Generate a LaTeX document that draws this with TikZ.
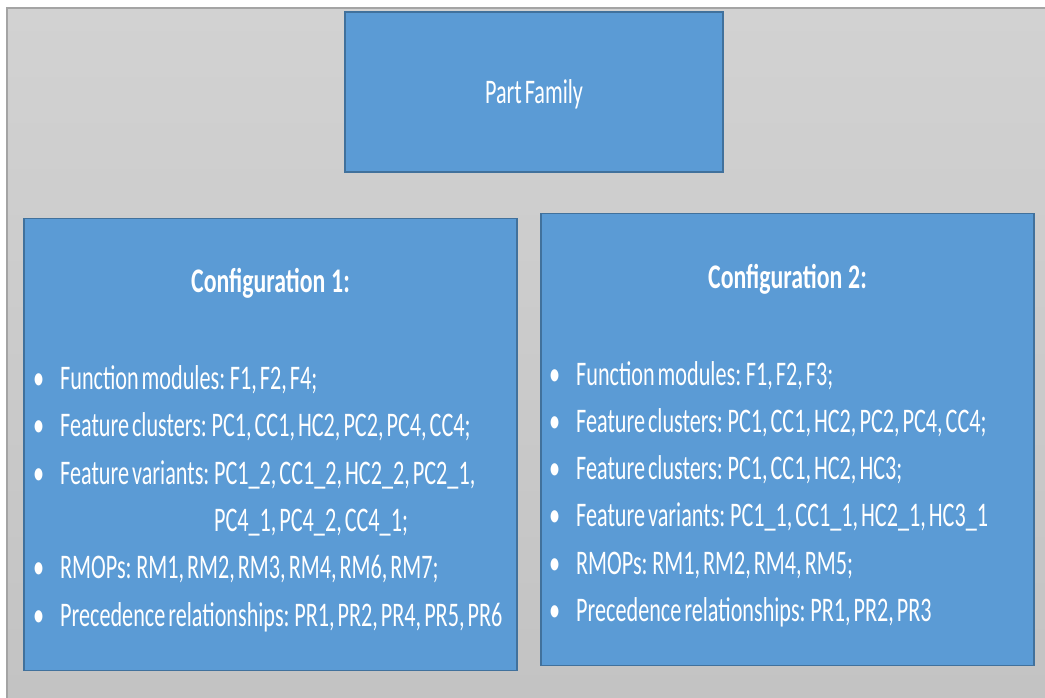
\documentclass[tikz,border=0pt]{standalone}
\usepackage{fontspec}
\setmainfont{Carlito}[FakeStretch=0.643, WordSpace=0.6]
\newfontfamily\titlefont{Carlito}[FakeStretch=0.69, WordSpace=0.6]
\usepackage{array}
\definecolor{boxblue}{HTML}{5B9BD5}
\definecolor{boxedge}{HTML}{41719C}
\definecolor{bgtop}{HTML}{D2D2D2}
\definecolor{bgbot}{HTML}{C3C3C3}
\definecolor{frameline}{HTML}{A4A4A4}
\tikzset{
  panel/.style={draw=boxedge, fill=boxblue, line width=1.2pt, rectangle, inner sep=0pt},
  wtext/.style={text=white, inner sep=0pt, font=\fontsize{34.5}{47.3}\selectfont},
  btitle/.style={text=white, inner sep=0pt, font=\titlefont\fontsize{34.5}{47.3}\selectfont\bfseries},
}
\newcommand{\bul}{\makebox[27pt][l]{\textbullet}}
\begin{document}
\begin{tikzpicture}[x=1pt,y=-1pt]
\useasboundingbox (0,0) rectangle (1045,698);
\fill[white] (0,0) rectangle (1045,698);
\shade[top color=bgtop, bottom color=bgbot] (7,8) rectangle (1045,698);
\draw[frameline, line width=1.5pt] (7,698) -- (7,8) -- (1045,8);
% boxes
\node[panel, minimum width=378pt, minimum height=160pt] (pf) at (534,92) {};
\node[panel, minimum width=493pt, minimum height=452pt] (c1) at (270.5,444.5) {};
\node[panel, minimum width=493pt, minimum height=452pt] (c2) at (787.5,439.5) {};
% texts
\node[wtext, anchor=base] (pft) at (534,104) {Part Family};
\node[btitle, anchor=base] (c1t) at (270.5,292) {Configuration\,1:};
\node[btitle, anchor=base] (c2t) at (787.5,288) {Configuration\,2:};
\node[wtext, anchor=base west] (c1l) at (33,389.5) {%
\begin{tabular}[t]{@{}l@{}}
\bul Function modules: F1, F2, F4;\\
\bul Feature clusters: PC1, CC1, HC2, PC2, PC4, CC4;\\
\bul Feature variants: PC1\_2, CC1\_2, HC2\_2, PC2\_1,\\
\hphantom{\bul Feature variants: }PC4\_1, PC4\_2, CC4\_1;\\
\bul RMOPs: RM1, RM2, RM3, RM4, RM6, RM7;\\
\bul Precedence relationships: PR1, PR2, PR4, PR5, PR6
\end{tabular}};
\node[wtext, anchor=base west] (c2l) at (549,385) {%
\begin{tabular}[t]{@{}l@{}}
\bul Function modules: F1, F2, F3;\\
\bul Feature clusters: PC1, CC1, HC2, PC2, PC4, CC4;\\
\bul Feature clusters: PC1, CC1, HC2, HC3;\\
\bul Feature variants: PC1\_1, CC1\_1, HC2\_1, HC3\_1\\
\bul RMOPs: RM1, RM2, RM4, RM5;\\
\bul Precedence relationships: PR1, PR2, PR3
\end{tabular}};
\end{tikzpicture}
\end{document}
